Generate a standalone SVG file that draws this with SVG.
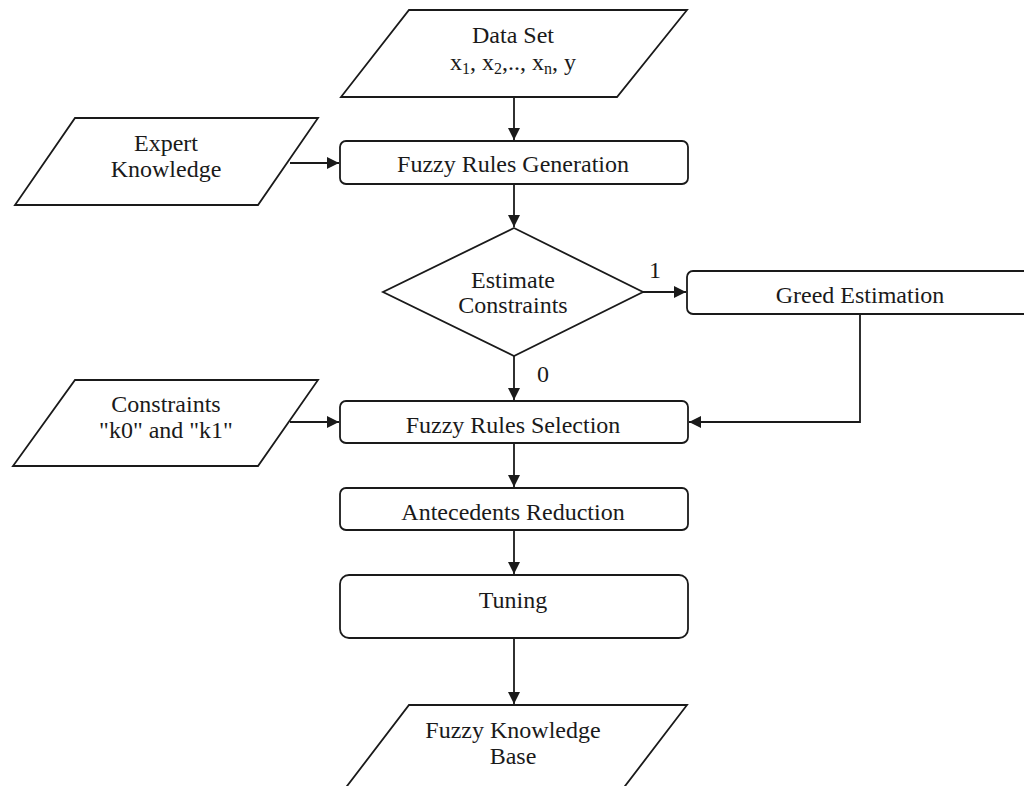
<svg xmlns="http://www.w3.org/2000/svg" width="1024" height="786" viewBox="0 0 1024 786">
<style>
.s{fill:#fff;stroke:#1a1a1a;stroke-width:1.8}
.c{fill:none;stroke:#1a1a1a;stroke-width:1.8}
text{font-family:"Liberation Serif","Times New Roman",serif;font-size:24px;fill:#1a1a1a;text-anchor:middle}
</style>
<defs>
<marker id="ah" viewBox="0 0 12 12" refX="12" refY="6" markerWidth="12" markerHeight="12" markerUnits="userSpaceOnUse" orient="auto">
<path d="M0,0 L12,6 L0,12 Z" fill="#1a1a1a"/>
</marker>
</defs>
<rect width="1024" height="786" fill="#fff"/>
<g id="connectors">
<path class="c" d="M514,97 V140" marker-end="url(#ah)"/>
<path class="c" d="M290,163 H339" marker-end="url(#ah)"/>
<path class="c" d="M514,184 V227" marker-end="url(#ah)"/>
<path class="c" d="M643,292 H686" marker-end="url(#ah)"/>
<path class="c" d="M514,356 V400" marker-end="url(#ah)"/>
<path class="c" d="M860,314 V422 H689" marker-end="url(#ah)"/>
<path class="c" d="M290,422 H339" marker-end="url(#ah)"/>
<path class="c" d="M514,443 V487" marker-end="url(#ah)"/>
<path class="c" d="M514,530 V574" marker-end="url(#ah)"/>
<path class="c" d="M514,638 V704" marker-end="url(#ah)"/>
<text x="655" y="278">1</text>
<text x="543" y="382">0</text>
</g>
<g id="dataset">
<polygon class="s" points="409,10 687,10 617,97 341,97"/>
<text x="513" y="43">Data Set</text>
<text x="513" y="70">x<tspan dy="4" style="font-size:16px">1</tspan><tspan dy="-4">, x</tspan><tspan dy="4" style="font-size:16px">2</tspan><tspan dy="-4">,.., x</tspan><tspan dy="4" style="font-size:16px">n</tspan><tspan dy="-4">, y</tspan></text>
</g>
<g id="expert">
<polygon class="s" points="75,118 318,118 258,205 15,205"/>
<text x="166" y="151">Expert</text>
<text x="166" y="177">Knowledge</text>
</g>
<g id="generation">
<rect class="s" x="340" y="141" width="348" height="43" rx="6"/>
<text x="513" y="172">Fuzzy Rules Generation</text>
</g>
<g id="decision">
<polygon class="s" points="514,228 643,292 514,356 383,292"/>
<text x="513" y="288">Estimate</text>
<text x="513" y="313">Constraints</text>
</g>
<g id="greed">
<rect class="s" x="687" y="271" width="345" height="43" rx="6"/>
<text x="860" y="303">Greed Estimation</text>
</g>
<g id="constraints">
<polygon class="s" points="75,380 318,380 258,466 13,466"/>
<text x="166" y="412">Constraints</text>
<text x="166" y="438">"k0" and "k1"</text>
</g>
<g id="selection">
<rect class="s" x="340" y="401" width="348" height="42" rx="6"/>
<text x="513" y="433">Fuzzy Rules Selection</text>
</g>
<g id="reduction">
<rect class="s" x="340" y="488" width="348" height="42" rx="6"/>
<text x="513" y="520">Antecedents Reduction</text>
</g>
<g id="tuning">
<rect class="s" x="340" y="575" width="348" height="63" rx="9"/>
<text x="513" y="608">Tuning</text>
</g>
<g id="kb">
<polygon class="s" points="409,705 687,705 622,790 344,790"/>
<text x="513" y="738">Fuzzy Knowledge</text>
<text x="513" y="764">Base</text>
</g>
</svg>
